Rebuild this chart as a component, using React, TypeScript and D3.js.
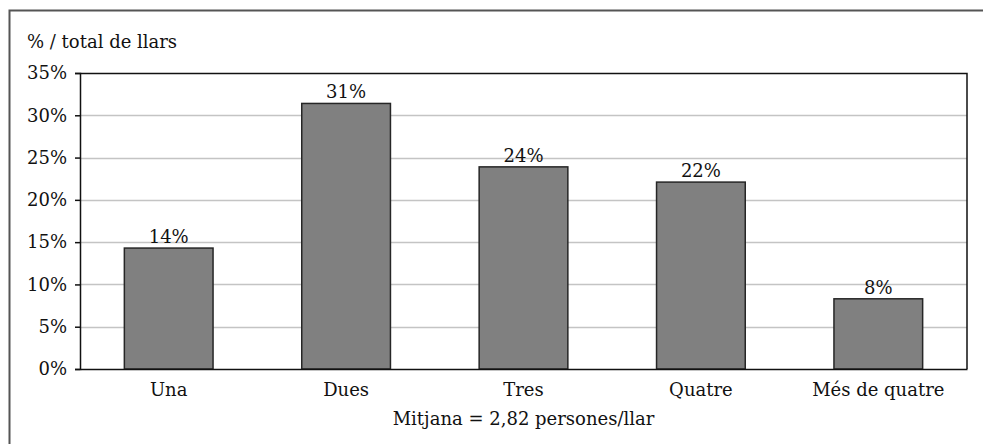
import { useEffect, useRef } from "react";
import * as d3 from "d3";

const categories = ["Una", "Dues", "Tres", "Quatre", "Més de quatre"];
const values = [14.3, 31.4, 23.9, 22.1, 8.3];
const valueLabels = ["14%", "31%", "24%", "22%", "8%"];
const yTicks = [0, 5, 10, 15, 20, 25, 30, 35];

const width = 983;
const height = 444;
const font = "'DejaVu Serif', serif";
const fs = 18;

export default function App() {
  const svgRef = useRef<SVGSVGElement>(null);

  useEffect(() => {
    if (!svgRef.current) return;
    const svg = d3.select(svgRef.current);
    svg.selectAll("*").remove();

    const margin = { top: 73, right: 16, bottom: 75, left: 80 };
    const innerWidth = width - margin.left - margin.right;
    const innerHeight = height - margin.top - margin.bottom;

    // outer frame (open at right and bottom like the source)
    svg.append("path")
      .attr("d", `M9.5,${height + 2}V10.5H${width + 2}`)
      .attr("fill", "none")
      .attr("stroke", "#555")
      .attr("stroke-width", 2);

    svg.append("text")
      .attr("x", 27)
      .attr("y", 48)
      .style("font-family", font)
      .style("font-size", `${fs}px`)
      .attr("fill", "#111")
      .text("% / total de llars");

    const g = svg.append("g")
      .attr("transform", `translate(${margin.left},${margin.top})`);

    const x = d3.scaleBand<string>()
      .domain(categories)
      .range([0, innerWidth])
      .paddingInner(0.5)
      .paddingOuter(0.25);

    const y = d3.scaleLinear()
      .domain([0, 35])
      .range([innerHeight, 0]);

    // gridlines
    g.selectAll(".grid")
      .data(yTicks.filter(t => t > 0 && t < 35))
      .enter()
      .append("line")
      .attr("x1", 0)
      .attr("x2", innerWidth)
      .attr("y1", d => Math.round(y(d)) + 0.5)
      .attr("y2", d => Math.round(y(d)) + 0.5)
      .attr("stroke", "#c4c4c4")
      .attr("stroke-width", 1.5);

    // plot frame top and right
    g.append("path")
      .attr("d", `M0,0.5H${innerWidth}V${innerHeight}`)
      .attr("fill", "none")
      .attr("stroke", "#111")
      .attr("stroke-width", 1.5);

    // bars
    g.selectAll(".bar")
      .data(values)
      .enter()
      .append("rect")
      .attr("x", (_, i) => x(categories[i]) as number)
      .attr("y", d => y(d))
      .attr("width", x.bandwidth())
      .attr("height", d => innerHeight - y(d))
      .attr("fill", "#808080")
      .attr("stroke", "#262626")
      .attr("stroke-width", 1.5);

    // value labels
    g.selectAll(".lbl")
      .data(values)
      .enter()
      .append("text")
      .attr("x", (_, i) => (x(categories[i]) as number) + x.bandwidth() / 2)
      .attr("y", d => y(d) - 5)
      .attr("text-anchor", "middle")
      .style("font-family", font)
      .style("font-size", `${fs}px`)
      .attr("fill", "#111")
      .text((_, i) => valueLabels[i]);

    // y axis
    const yAxis = g.append("g")
      .call(d3.axisLeft(y).tickValues(yTicks).tickSize(5).tickPadding(8).tickFormat(d => `${d}%`));
    yAxis.select(".domain").attr("stroke", "#111").attr("stroke-width", 1.5);
    yAxis.selectAll("line").attr("stroke", "#111").attr("stroke-width", 1.5);
    yAxis.selectAll("text")
      .style("font-family", font)
      .style("font-size", `${fs}px`)
      .attr("fill", "#111");

    // x axis
    const xAxis = g.append("g")
      .attr("transform", `translate(0,${innerHeight})`)
      .call(d3.axisBottom(x).tickSize(0).tickPadding(14));
    xAxis.select(".domain").attr("stroke", "#111").attr("stroke-width", 1.5);
    xAxis.selectAll("text")
      .style("font-family", font)
      .style("font-size", `${fs}px`)
      .attr("fill", "#111");

    svg.append("text")
      .attr("x", margin.left + innerWidth / 2)
      .attr("y", 425)
      .attr("text-anchor", "middle")
      .style("font-family", font)
      .style("font-size", `${fs}px`)
      .attr("fill", "#111")
      .text("Mitjana = 2,82 persones/llar");
  }, []);

  return (
    <svg ref={svgRef} width={width} height={height}
      style={{ position: "absolute", left: 0, top: 0, background: "#fff" }} />
  );
}
